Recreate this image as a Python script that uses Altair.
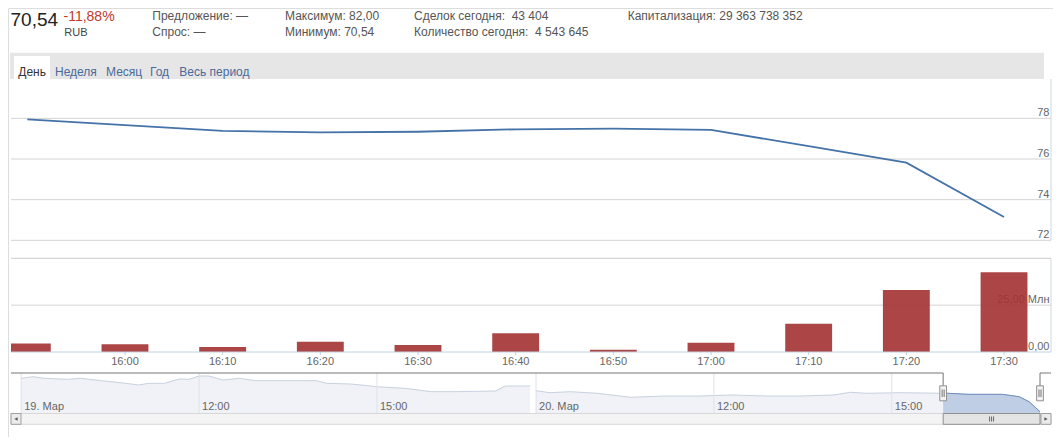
import altair as alt
import pandas as pd

# ---------------- data ----------------
HEADER_PRICE = "70,54"
HEADER_CHANGE = "-11,88%"
HEADER_CURRENCY = "RUB"
HEADER_COL1 = ["Предложение: —", "Спрос: —"]
HEADER_COL2 = ["Максимум: 82,00", "Минимум: 70,54"]
HEADER_COL3 = ["Сделок сегодня:\u00a0 43 404", "Количество сегодня:\u00a0 4 543 645"]
HEADER_COL4 = ["Капитализация: 29 363 738 352"]
TABS = ["День", "Неделя", "Месяц", "Год", "Весь период"]

TIMES = ["15:50", "16:00", "16:10", "16:20", "16:30", "16:40",
         "16:50", "17:00", "17:10", "17:20", "17:30"]
PRICE = [77.95, 77.67, 77.38, 77.31, 77.34, 77.46, 77.49, 77.43, 76.63, 75.82, 73.15]
VOLUME_MLN = [4.6, 4.1, 2.7, 5.5, 3.7, 10.0, 1.2, 5.0, 15.1, 33.1, 42.5]

PRICE_TICKS = [72, 74, 76, 78]
PRICE_TICK_LABELS = ["72", "74", "76", "78"]
VOL_TICKS = [0, 25]
VOL_TICK_LABELS = ["0,00", "25,00 Млн"]
TIME_TICKS = ["16:00", "16:10", "16:20", "16:30", "16:40", "16:50",
              "17:00", "17:10", "17:20", "17:30"]

NAV_19_TIMES = ["09:00", "09:12", "09:23", "09:47", "10:00", "10:21", "10:41", "10:59",
                "11:09", "11:25", "11:40", "11:50", "12:00", "12:10", "12:24", "12:41",
                "12:57", "13:59", "14:09", "14:33", "14:47", "15:00", "15:28", "15:55",
                "16:19", "17:00", "17:10", "17:28", "17:35"]
NAV_19_PRICE = [81.99, 82.42, 81.99, 81.73, 81.99, 81.36, 80.82, 80.21,
                80.66, 80.66, 81.81, 81.73, 82.60, 82.60, 81.54, 81.99,
                81.36, 81.36, 80.66, 80.48, 80.13, 79.76, 79.33, 78.43,
                78.43, 78.61, 79.94, 79.94, 79.94]
NAV_20_TIMES = ["09:00", "09:14", "09:35", "10:02", "10:36", "11:10", "11:45", "12:19",
                "12:53", "13:27", "14:01", "14:18", "14:35", "15:09", "15:52", "15:57",
                "16:18", "16:52", "17:09", "17:19", "17:30"]
NAV_20_PRICE = [78.69, 78.16, 78.43, 78.00, 76.93, 77.28, 77.28, 77.55,
                77.28, 77.28, 77.55, 78.27, 78.00, 78.16, 78.00, 78.00,
                77.73, 77.73, 77.09, 75.76, 73.10]
NAV_TICK_DAY = [19, 19, 19, 20, 20, 20]
NAV_TICK_TIME = ["09:00", "12:00", "15:00", "09:00", "12:00", "15:00"]
NAV_TICK_LABELS = ["19. Мар", "12:00", "15:00", "20. Мар", "12:00", "15:00"]
NAV_SELECTION = ["15:52", "17:30"]   # selected range on 20 Mar

# ---------------- helpers ----------------
FONT = "Liberation Sans"
NAV_DAY_OFFSET = 8.683  # compressed (ordinal) gap between sessions, in hours
NAV_MIN, NAV_MAX = 72.75, 83.41


def mins(s):
    h, m = s.split(":")
    return int(h) * 60 + int(m)


def nav_pos(day, s):
    p = (mins(s) - 540) / 60.0
    return p + (NAV_DAY_OFFSET if day == 20 else 0.0)


ONE = pd.DataFrame({"k": [0]})

main_df = pd.DataFrame({"time": TIMES, "price": PRICE, "vol": VOLUME_MLN})
main_df["m"] = main_df["time"].map(mins)
main_df["m0"] = main_df["m"] - 2.4
main_df["m1"] = main_df["m"] + 2.4

ptick_df = pd.DataFrame({"v": PRICE_TICKS, "lab": PRICE_TICK_LABELS})
vtick_df = pd.DataFrame({"v": VOL_TICKS, "lab": VOL_TICK_LABELS})
ttick_df = pd.DataFrame({"lab": TIME_TICKS})
ttick_df["m"] = ttick_df["lab"].map(mins)

nav19 = pd.DataFrame({"time": NAV_19_TIMES, "price": NAV_19_PRICE})
nav19["p"] = [nav_pos(19, t) for t in NAV_19_TIMES]
nav20 = pd.DataFrame({"time": NAV_20_TIMES, "price": NAV_20_PRICE})
nav20["p"] = [nav_pos(20, t) for t in NAV_20_TIMES]
navtick = pd.DataFrame({"lab": NAV_TICK_LABELS})
navtick["p"] = [nav_pos(d, t) for d, t in zip(NAV_TICK_DAY, NAV_TICK_TIME)]
sel_p0 = nav_pos(20, NAV_SELECTION[0])
sel_p1 = nav_pos(20, NAV_SELECTION[1])
sel_df = pd.DataFrame({"p": [sel_p0, sel_p1]})
sel_box = pd.DataFrame({"p0": [sel_p0], "p1": [sel_p1], "pm": [(sel_p0 + sel_p1) / 2]})
nav_sel = nav20[nav20["p"] >= sel_p0]

# ---------------- scales ----------------
L, R = 3, 1043
XT = alt.Scale(domain=[948.33, 1054.81], range=[L, R], clamp=True, nice=False, zero=False)
YP = alt.Scale(domain=[72, 80], range=[232.3, 69.7], nice=False, zero=False)
YV = alt.Scale(domain=[0, 50], range=[344, 250.3], nice=False, zero=False)
XN = alt.Scale(domain=[0, nav_pos(20, "17:30")], range=[13.2, 1032], nice=False, zero=False)
YN = alt.Scale(domain=[NAV_MIN, NAV_MAX], range=[405, 365], nice=False, zero=False)

layers = []


def txt(s, x, y, size=12, color="#555555", align="left"):
    return alt.Chart(pd.DataFrame({"t": [s]})).mark_text(
        align=align, baseline="alphabetic", font=FONT, fontSize=size, color=color
    ).encode(x=alt.value(x), y=alt.value(y), text="t:N")


def box(x, x2, y, y2, **kw):
    return alt.Chart(ONE).mark_rect(**kw).encode(
        x=alt.value(x), x2=alt.value(x2), y=alt.value(y), y2=alt.value(y2))


# header
layers.append(txt(HEADER_PRICE, 2.5, 17.5, 19, "#222222"))
layers.append(txt(HEADER_CHANGE, 55.5, 12.5, 14, "#c0392b"))
layers.append(txt(HEADER_CURRENCY, 56.3, 28, 11, "#444444"))
for col, x in [(HEADER_COL1, 144.3), (HEADER_COL2, 277), (HEADER_COL3, 406), (HEADER_COL4, 619.7)]:
    for i, s in enumerate(col):
        layers.append(txt(s, x, 11.5 + i * 16.5, 12, "#555555"))

# tab bar
layers.append(box(2, 1036, 44.7, 71, fill="#e6e6e6"))
layers.append(box(6, 42, 48, 71, fill="#ffffff"))
for s, x in zip(TABS, [10.3, 47, 98, 142, 171.3]):
    layers.append(txt(s, x, 67.5, 12, "#333333" if s == TABS[0] else "#4a6b9b"))

# price panel
layers.append(alt.Chart(ptick_df).mark_rule(color="#d4d4d4", strokeWidth=1).encode(
    y=alt.Y("v:Q", scale=YP, axis=None), x=alt.value(L), x2=alt.value(R)))
layers.append(alt.Chart(ONE).mark_rule(color="#cfd8e2").encode(
    x=alt.value(R), y=alt.value(71), y2=alt.value(232.3)))
layers.append(alt.Chart(main_df).mark_line(color="#4572a7", strokeWidth=1.8).encode(
    x=alt.X("m:Q", scale=XT, axis=None), y=alt.Y("price:Q", scale=YP, axis=None)))
layers.append(alt.Chart(ptick_df).mark_text(
    align="right", baseline="alphabetic", dy=-2, font=FONT, fontSize=11, color="#666666").encode(
    y=alt.Y("v:Q", scale=YP, axis=None), x=alt.value(1041.5), text="lab:N"))

# volume panel
layers.append(alt.Chart(ONE).mark_rule(color="#cccccc").encode(
    x=alt.value(L), x2=alt.value(R), y=alt.value(250.3)))
layers.append(alt.Chart(ONE).mark_rule(color="#cfd8e2").encode(
    x=alt.value(R), y=alt.value(250.3), y2=alt.value(344)))
layers.append(alt.Chart(vtick_df[vtick_df["v"] > 0]).mark_rule(color="#d4d4d4").encode(
    y=alt.Y("v:Q", scale=YV, axis=None), x=alt.value(L), x2=alt.value(R)))
layers.append(alt.Chart(vtick_df).mark_text(
    align="right", baseline="alphabetic", dy=-2, font=FONT, fontSize=11, color="#666666").encode(
    y=alt.Y("v:Q", scale=YV, axis=None), x=alt.value(1041.5), text="lab:N"))
layers.append(alt.Chart(main_df).mark_rect(color="#a33232", opacity=0.9).encode(
    x=alt.X("m0:Q", scale=XT, axis=None), x2="m1:Q",
    y=alt.Y("vol:Q", scale=YV, axis=None), y2=alt.value(344)))
layers.append(alt.Chart(ONE).mark_rule(color="#c0d0e0").encode(
    x=alt.value(L), x2=alt.value(R), y=alt.value(344)))
layers.append(alt.Chart(ttick_df).mark_rule(color="#c0d0e0").encode(
    x=alt.X("m:Q", scale=XT, axis=None), y=alt.value(344), y2=alt.value(347)))
layers.append(alt.Chart(ttick_df).mark_text(
    align="center", baseline="alphabetic", font=FONT, fontSize=11, color="#666666").encode(
    x=alt.X("m:Q", scale=XT, axis=None), y=alt.value(357), text="lab:N"))

# navigator
for d in (nav19, nav20):
    layers.append(alt.Chart(d).mark_area(
        color="#e9edf3", line=alt.OverlayMarkDef(color="#c8d2de", strokeWidth=1)).encode(
        x=alt.X("p:Q", scale=XN, axis=None), y=alt.Y("price:Q", scale=YN, axis=None),
        y2=alt.datum(NAV_MIN)))
layers.append(alt.Chart(navtick).mark_rule(color="#dde3ea").encode(
    x=alt.X("p:Q", scale=XN, axis=None), y=alt.value(365), y2=alt.value(405)))
layers.append(alt.Chart(navtick).mark_text(
    align="left", baseline="alphabetic", dx=3, font=FONT, fontSize=11, color="#666666").encode(
    x=alt.X("p:Q", scale=XN, axis=None), y=alt.value(402), text="lab:N"))
layers.append(alt.Chart(nav_sel).mark_area(
    color="#a9bfdc", line=alt.OverlayMarkDef(color="#6f8fbd", strokeWidth=1)).encode(
    x=alt.X("p:Q", scale=XN, axis=None), y=alt.Y("price:Q", scale=YN, axis=None),
    y2=alt.datum(NAV_MIN)))

# outline
layers.append(alt.Chart(sel_box).mark_rule(color="#777777").encode(
    x=alt.X("p0:Q", scale=XN, axis=None), x2=alt.value(L), y=alt.value(365)))
layers.append(alt.Chart(sel_box).mark_rule(color="#777777").encode(
    x=alt.X("p1:Q", scale=XN, axis=None), x2=alt.value(R), y=alt.value(365)))
layers.append(alt.Chart(sel_df).mark_rule(color="#777777").encode(
    x=alt.X("p:Q", scale=XN, axis=None), y=alt.value(365), y2=alt.value(378)))

# scrollbar
layers.append(box(L, R, 405.5, 416.3, fill="#f4f4f4", stroke="#d8d8d8", strokeWidth=1))
layers.append(box(L, L + 10, 405.5, 416.3, fill="#ebebeb", stroke="#a0a0a0", strokeWidth=1))
layers.append(box(R - 10, R, 405.5, 416.3, fill="#ebebeb", stroke="#a0a0a0", strokeWidth=1))
layers.append(alt.Chart(ONE).mark_point(shape="triangle-left", size=14, filled=True, color="#555555", opacity=1).encode(
    x=alt.value(L + 5), y=alt.value(411)))
layers.append(alt.Chart(ONE).mark_point(shape="triangle-right", size=14, filled=True, color="#555555", opacity=1).encode(
    x=alt.value(R - 5), y=alt.value(411)))
layers.append(alt.Chart(sel_box).mark_rect(fill="#e4e4e4", stroke="#8f8f8f", strokeWidth=1).encode(
    x=alt.X("p0:Q", scale=XN, axis=None), x2="p1:Q", y=alt.value(405.5), y2=alt.value(416.3)))
for off in (-2, 0, 2):
    layers.append(alt.Chart(sel_box).mark_rule(color="#666666", xOffset=off).encode(
        x=alt.X("pm:Q", scale=XN, axis=None), y=alt.value(408.5), y2=alt.value(413.5)))

# handles
HANDLE = "M-0.45,-1H0.45V1H-0.45Z"
layers.append(alt.Chart(sel_df).mark_point(
    shape=HANDLE, size=225, filled=True, fill="#f2f2f2", stroke="#909090", strokeWidth=1, opacity=1).encode(
    x=alt.X("p:Q", scale=XN, axis=None), y=alt.value(385.3)))
for off in (-1, 1):
    layers.append(alt.Chart(sel_df).mark_rule(color="#777777", xOffset=off).encode(
        x=alt.X("p:Q", scale=XN, axis=None), y=alt.value(381.5), y2=alt.value(389)))

chart = alt.layer(*layers).resolve_scale(x="independent", y="independent").properties(
    width=1045, height=429, autosize="none", padding=0
).configure_view(stroke=None).configure(background="#ffffff")

chart.save("out.html", embed_options={"renderer": "svg", "actions": False})
